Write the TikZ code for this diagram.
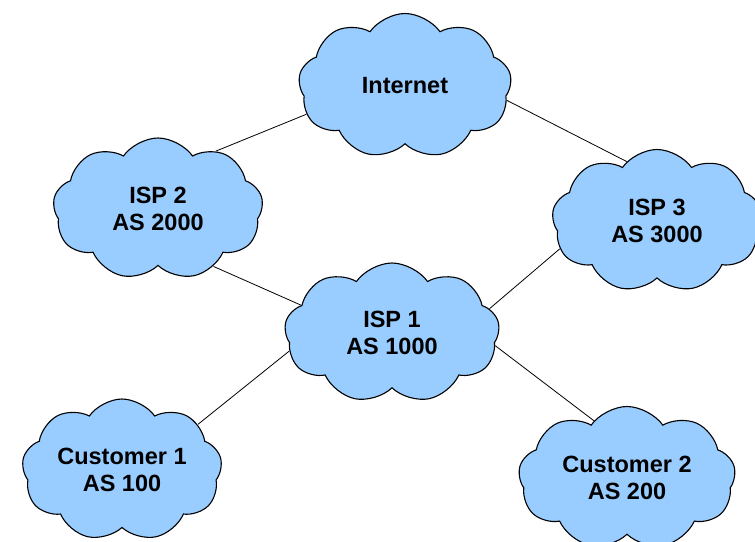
\documentclass[tikz,border=0pt]{standalone}
\usepackage{fontspec}
\setmainfont{Liberation Sans}
\usepackage{tikz}
\usepackage{xcolor}
\usetikzlibrary{shapes.symbols, backgrounds}
\definecolor{asBlue}{HTML}{99CCFF}

\begin{document}
\begin{tikzpicture}[
  x=1pt, y=-1pt,
  as/.style={cloud, cloud puffs=9, cloud puff arc=110, cloud ignores aspect, draw, line width=1.1pt, fill=asBlue, align=center, font=\fontsize{23.5}{27}\selectfont\bfseries, inner sep=0pt},
  link/.style={line width=0.8pt, draw=black}
]
\useasboundingbox (0,0) rectangle (755,541);
\node[as, minimum width=213pt, minimum height=145pt] (inet) at (405,86) {Internet};
\node[as, minimum width=210pt, minimum height=142pt] (isp2) at (158,209) {ISP 2\\AS 2000};
\node[as, minimum width=210pt, minimum height=143pt] (isp3) at (657,221) {ISP 3\\AS 3000};
\node[as, minimum width=215pt, minimum height=140pt] (isp1) at (392,333) {ISP 1\\AS 1000};
\node[as, minimum width=200pt, minimum height=142pt] (cust1) at (122,470) {Customer 1\\AS 100};
\node[as, minimum width=217pt, minimum height=143pt] (cust2) at (627,478) {Customer 2\\AS 200};
\begin{scope}[on background layer]
\draw[link] (inet.196) -- (isp2.45);
\draw[link] (inet.352) -- (isp3.117);
\draw[link] (isp2.314) -- (isp1.163);
\draw[link] (isp3.196) -- (isp1.14);
\draw[link] (isp1.190) -- (cust1.31);
\draw[link] (isp1.353) -- (cust2.120);
\end{scope}
\end{tikzpicture}
\end{document}
